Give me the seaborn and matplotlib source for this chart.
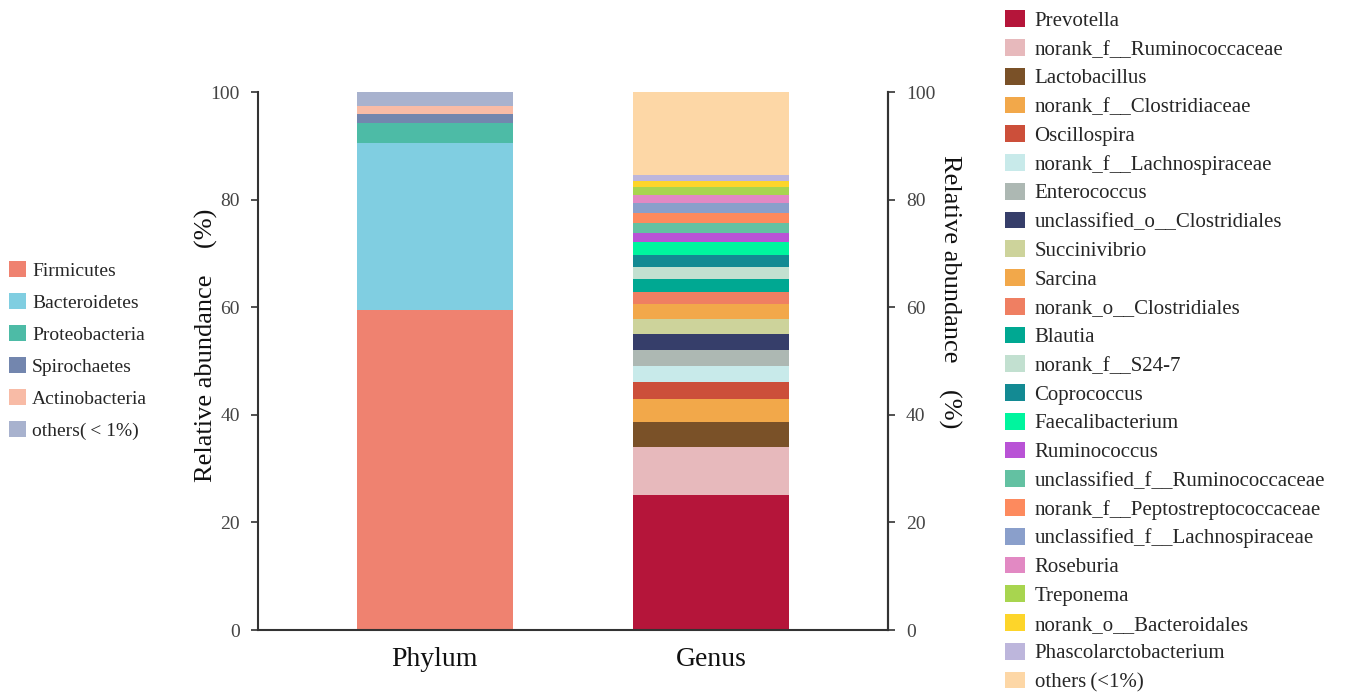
import matplotlib
matplotlib.use("Agg")
import matplotlib.pyplot as plt
from matplotlib.patches import Patch
import seaborn as sns
import pandas as pd
import numpy as np

# ---------------- data ----------------
categories = ["Phylum", "Genus"]

phylum_names = ["Firmicutes", "Bacteroidetes", "Proteobacteria", "Spirochaetes",
                "Actinobacteria", "others(\u2009< 1%)"]
phylum_values = [59.5, 31.0, 3.7, 1.7, 1.5, 2.6]
phylum_colors = ["#EF8270", "#80CEE1", "#4DBBA6", "#7386AE", "#F8BBA6", "#A8B2CE"]

genus_names = ["Prevotella", "norank_f__Ruminococcaceae", "Lactobacillus",
               "norank_f__Clostridiaceae", "Oscillospira", "norank_f__Lachnospiraceae",
               "Enterococcus", "unclassified_o__Clostridiales", "Succinivibrio", "Sarcina",
               "norank_o__Clostridiales", "Blautia", "norank_f__S24-7", "Coprococcus",
               "Faecalibacterium", "Ruminococcus", "unclassified_f__Ruminococcaceae",
               "norank_f__Peptostreptococcaceae", "unclassified_f__Lachnospiraceae",
               "Roseburia", "Treponema", "norank_o__Bacteroidales",
               "Phascolarctobacterium", "others\u2009(<1%)"]
genus_values = [25.1, 8.9, 4.6, 4.3, 3.2, 3.0, 3.0, 3.0, 2.7, 2.8, 2.3, 2.4, 2.2, 2.2,
                2.4, 1.7, 1.9, 1.9, 1.7, 1.5, 1.6, 1.0, 1.1, 15.5]
genus_colors = ["#B5153A", "#E7B9BC", "#7A5128", "#F2A84A", "#CC4F3A", "#C8EAEA",
                "#ADB8B3", "#363E6A", "#CDD39B", "#F2A84A", "#EF7F62", "#00A892",
                "#C2E0D0", "#138A93", "#00F59E", "#B953D6", "#63C1A2", "#FD8A5E",
                "#8A9FCB", "#E289C3", "#A8D54F", "#FDD52A", "#BDB6DC", "#FDD7A6"]

yticks = [0, 20, 40, 60, 80, 100]

# ---------------- style ----------------
sns.set_style("white")
plt.rcParams["font.family"] = ["Liberation Serif", "DejaVu Serif"]

fig = plt.figure(figsize=(13.52, 6.96), dpi=100)
ax = fig.add_axes([0.1908, 0.0948, 0.466, 0.773])

bar_w = 0.565

def stacked(cat, values, colors):
    cum = np.cumsum(values)
    # draw from the top segment down so each lower segment overlays the upper ones
    for i in range(len(values) - 1, -1, -1):
        df = pd.DataFrame({"cat": [cat], "val": [cum[i]]})
        sns.barplot(data=df, x="cat", y="val", order=categories, color=colors[i],
                    width=bar_w, saturation=1, linewidth=0, ax=ax)

stacked("Phylum", phylum_values, phylum_colors)
stacked("Genus", genus_values, genus_colors)

ax.set_xlim(-0.641, 1.641)
ax.set_ylim(0, 100)
ax.set_yticks(yticks)
ax.set_xlabel("")
ax.set_ylabel("Relative abundance    (%)", fontsize=19, color="#111111")
ax.yaxis.set_label_coords(-0.064, 0.53)
ax.set_xticks([0, 1])
ax.set_xticklabels(categories, fontsize=20, color="#111111")
ax.tick_params(axis="x", length=0, pad=12)
ax.set_xticks([0.5], minor=True)
ax.tick_params(axis="x", which="minor", direction="in", length=4, width=1.2, color="#333333")
ax.tick_params(axis="y", direction="out", length=5, width=1.2, color="#333333",
               labelsize=14, labelcolor="#444444", pad=8)

for s in ["left", "bottom", "right"]:
    ax.spines[s].set_visible(True)
    ax.spines[s].set_color("#333333")
    ax.spines[s].set_linewidth(1.5)
ax.spines["top"].set_visible(False)

ax2 = ax.twinx()
ax2.set_ylim(0, 100)
ax2.set_yticks(yticks)
ax2.tick_params(axis="y", direction="out", length=5, width=1.2, color="#333333",
                labelsize=14, labelcolor="#444444", pad=8)
for s in ["top", "left", "bottom"]:
    ax2.spines[s].set_visible(False)
ax2.spines["right"].set_color("#333333")
ax2.spines["right"].set_linewidth(1.5)
ax2.set_ylabel("Relative abundance    (%)", fontsize=19, color="#111111", rotation=270,
               va="center")
ax2.yaxis.set_label_coords(1.098, 0.628)

# ---------------- legends ----------------
ph_handles = [Patch(facecolor=c, edgecolor="none", label=n)
              for n, c in zip(phylum_names, phylum_colors)]
fig.legend(handles=ph_handles, loc="upper left", bbox_to_anchor=(0.001, 0.636),
           frameon=False, fontsize=14, handlelength=0.88, handleheight=0.9,
           handletextpad=0.3, labelspacing=0.68, borderaxespad=0)

ge_handles = [Patch(facecolor=c, edgecolor="none", label=n)
              for n, c in zip(genus_names, genus_colors)]
fig.legend(handles=ge_handles, loc="upper left", bbox_to_anchor=(0.737, 0.997),
           frameon=False, fontsize=15, handlelength=0.95, handleheight=0.85,
           handletextpad=0.48, labelspacing=0.395, borderaxespad=0)

fig.savefig("out.png", dpi=100)
